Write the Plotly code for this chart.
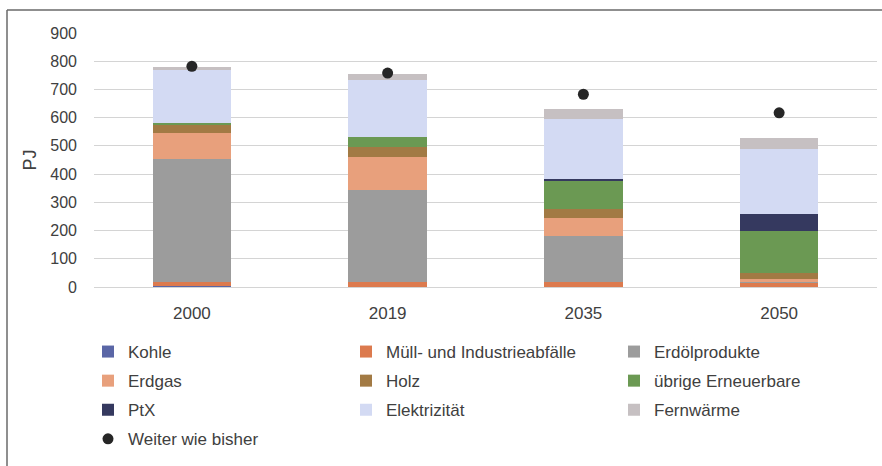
import plotly.graph_objects as go

years = ["2000", "2019", "2035", "2050"]
kohle = [2, 1, 1, 1]
muell = [14, 15, 15, 15]
erdoel = [436, 327, 165, 3]
erdgas = [94, 116, 64, 9]
holz = [29, 38, 33, 21]
uebrige = [5, 33, 99, 151]
ptx = [0, 0, 5, 58]
elektrizitaet = [188, 205, 215, 230]
fernwaerme = [13, 21, 32, 40]
weiter_wie_bisher = [782, 758, 683, 617]
y_ticks = [0, 100, 200, 300, 400, 500, 600, 700, 800, 900]

series = [
    ("Kohle", kohle, "#5a66a6", "legend"),
    ("Müll- und Industrieabfälle", muell, "#dc7a4e", "legend2"),
    ("Erdölprodukte", erdoel, "#9c9c9c", "legend3"),
    ("Erdgas", erdgas, "#e8a07c", "legend"),
    ("Holz", holz, "#a27a44", "legend2"),
    ("übrige Erneuerbare", uebrige, "#6b9953", "legend3"),
    ("PtX", ptx, "#35395f", "legend"),
    ("Elektrizität", elektrizitaet, "#d3daf3", "legend2"),
    ("Fernwärme", fernwaerme, "#c6c0c2", "legend3"),
]

FONT = "Liberation Sans, Arial, sans-serif"
TXT = "#404040"

fig = go.Figure()
for i, (name, vals, col, lg) in enumerate(series):
    fig.add_trace(go.Bar(
        x=years, y=vals, name=name, marker=dict(color=col, line=dict(width=0)),
        legend=lg, legendgroup=name,
    ))
fig.add_trace(go.Scatter(
    x=years, y=weiter_wie_bisher, name="Weiter wie bisher", mode="markers",
    marker=dict(color="#262626", size=11), legend="legend", legendgroup="wwb",
))

# plot area in px: x 94..877, y 33..287.3
W, H = 882, 466
L, R, T, B = 94, 5, 33, 179
pw = W - L - R
ph = H - T - B

def px_x(px):
    return (px - L) / pw

def px_y(py):
    return (H - B - py) / ph

legend_common = dict(
    orientation="v", xanchor="left", yanchor="top",
    font=dict(family=FONT, size=17, color=TXT),
    bgcolor="rgba(0,0,0,0)", traceorder="grouped", tracegroupgap=4,
    itemclick=False,
)

fig.update_layout(
    width=W, height=H,
    margin=dict(l=L, r=R, t=T, b=B, autoexpand=False),
    paper_bgcolor="white", plot_bgcolor="white",
    barmode="stack", bargap=0.6,
    font=dict(family=FONT, size=16, color=TXT),
    xaxis=dict(
        type="category", showgrid=False, showline=False, ticks="",
        tickfont=dict(family=FONT, size=17, color=TXT), ticklabelstandoff=14,
    ),
    yaxis=dict(
        range=[0, 900], tickvals=y_ticks, showgrid=True, gridcolor="#d4d4d4",
        gridwidth=1, zeroline=True, zerolinecolor="#d4d4d4", zerolinewidth=1,
        showline=False, ticks="", ticklabelstandoff=16,
        tickfont=dict(family=FONT, size=16, color=TXT),
        title=dict(text="PJ", font=dict(family=FONT, size=18, color=TXT), standoff=8),
    ),
    legend=dict(x=px_x(88), y=px_y(334), **legend_common),
    legend2=dict(x=px_x(346), y=px_y(334), **legend_common),
    legend3=dict(x=px_x(614), y=px_y(334), **legend_common),
    shapes=[
        dict(type="line", xref="paper", yref="paper",
             x0=px_x(7), x1=px_x(882), y0=px_y(10), y1=px_y(10),
             line=dict(color="#6a6a6a", width=1.5)),
        dict(type="line", xref="paper", yref="paper",
             x0=px_x(7), x1=px_x(7), y0=px_y(10), y1=px_y(466),
             line=dict(color="#6a6a6a", width=1.5)),
    ],
)

fig.write_html("out.html", config={"displayModeBar": False},
               post_script="document.body.style.margin='0';")
